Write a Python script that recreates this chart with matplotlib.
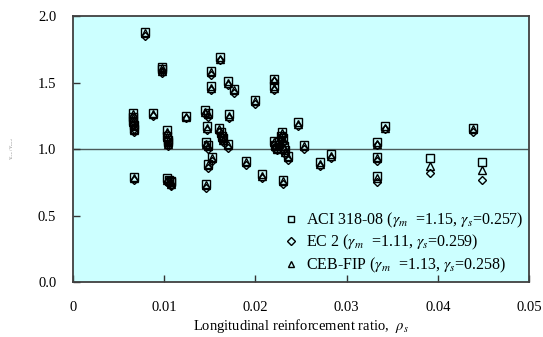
import matplotlib
matplotlib.use('Agg')
import matplotlib.pyplot as plt

# 纵筋配筋率 与 三种规范的 试验值/计算值
rho = [0.0066, 0.0066, 0.0066, 0.0067, 0.0067, 0.0067, 0.0079, 0.0088, 0.0098, 0.0098,
       0.0103, 0.0103, 0.0104, 0.0104, 0.0103, 0.0105, 0.0108, 0.0107, 0.0124, 0.0145,
       0.0148, 0.0147, 0.0146, 0.0148, 0.0146, 0.0148, 0.0152, 0.0151, 0.0151, 0.0161,
       0.0160, 0.0162, 0.0163, 0.0164, 0.0170, 0.0171, 0.0170, 0.0177, 0.0190, 0.0200,
       0.0207, 0.0220, 0.0220, 0.0220, 0.0222, 0.0224, 0.0226, 0.0228, 0.0229, 0.0230,
       0.0231, 0.0233, 0.0230, 0.0236, 0.0247, 0.0253, 0.0271, 0.0283, 0.0333, 0.0333,
       0.0333, 0.0342, 0.0391, 0.0439, 0.0448]
aci = [1.27, 1.24, 1.21, 1.18, 1.15, 0.79, 1.88, 1.27, 1.62, 1.60,
       1.14, 1.10, 1.07, 1.05, 0.78, 0.77, 0.76, 0.75, 1.25, 1.29,
       1.27, 1.17, 1.05, 1.03, 0.74, 0.89, 0.94, 1.59, 1.47, 1.69,
       1.16, 1.13, 1.10, 1.08, 1.51, 1.26, 1.04, 1.45, 0.91, 1.37,
       0.81, 1.53, 1.47, 1.06, 1.03, 1.01, 1.05, 1.10, 1.13, 1.08,
       1.02, 0.99, 0.77, 0.95, 1.20, 1.03, 0.90, 0.96, 1.05, 0.94,
       0.80, 1.17, 0.93, 1.16, 0.90]
ec2 = [1.24, 1.21, 1.18, 1.15, 1.13, 0.77, 1.85, 1.25, 1.59, 1.57,
       1.11, 1.07, 1.04, 1.02, 0.75, 0.74, 0.73, 0.72, 1.23, 1.26,
       1.24, 1.14, 1.02, 1.00, 0.71, 0.86, 0.91, 1.56, 1.44, 1.67,
       1.13, 1.10, 1.07, 1.05, 1.48, 1.23, 1.01, 1.42, 0.88, 1.34,
       0.78, 1.51, 1.44, 1.03, 1.00, 0.99, 1.02, 1.07, 1.10, 1.05,
       0.99, 0.96, 0.74, 0.92, 1.17, 1.00, 0.87, 0.93, 1.03, 0.91,
       0.75, 1.15, 0.82, 1.13, 0.77]
ceb = [1.26, 1.23, 1.20, 1.17, 1.14, 0.78, 1.87, 1.26, 1.61, 1.59,
       1.13, 1.09, 1.06, 1.04, 0.77, 0.76, 0.75, 0.74, 1.24, 1.28,
       1.26, 1.16, 1.04, 1.02, 0.73, 0.88, 0.93, 1.58, 1.46, 1.68,
       1.15, 1.12, 1.09, 1.07, 1.50, 1.25, 1.03, 1.44, 0.90, 1.36,
       0.80, 1.52, 1.46, 1.05, 1.02, 1.00, 1.04, 1.09, 1.12, 1.07,
       1.01, 0.98, 0.76, 0.94, 1.19, 1.02, 0.89, 0.95, 1.04, 0.93,
       0.78, 1.16, 0.87, 1.15, 0.84]

labels = [r'ACI 318-08 ($\gamma_m$  =1.15, $\gamma_s$=0.257)',
          r'EC 2 ($\gamma_m$  =1.11, $\gamma_s$=0.259)',
          r'CEB-FIP ($\gamma_m$  =1.13, $\gamma_s$=0.258)']

plt.rcParams['font.family'] = ['Liberation Serif', 'DejaVu Serif']
plt.rcParams['mathtext.fontset'] = 'stix'
plt.rcParams['font.size'] = 10.5

fig = plt.figure(figsize=(5.43, 3.37), dpi=100)
ax = fig.add_axes([0.1344, 0.1632, 0.8398, 0.7893])
ax.set_facecolor('#CCFFFF')

ax.plot(rho, aci, 's', ms=5.2, mfc='none', mec='black', mew=1.0, label=labels[0])
ax.plot(rho, ec2, 'D', ms=4.0, mfc='none', mec='black', mew=1.0, label=labels[1])
ax.plot(rho, ceb, '^', ms=5.2, mfc='none', mec='black', mew=1.0, label=labels[2])

# 参考线 y = 1
ax.axhline(1.0, color='#4a5a5a', lw=1.0, zorder=1)

ax.set_xlim(0, 0.05)
ax.set_ylim(0, 2.0)
ax.set_xticks([0, 0.01, 0.02, 0.03, 0.04, 0.05])
ax.set_xticklabels(['0', '0.01', '0.02', '0.03', '0.04', '0.05'])
ax.set_yticks([0, 0.5, 1.0, 1.5, 2.0])
ax.set_yticklabels(['0.0', '0.5', '1.0', '1.5', '2.0'])
ax.tick_params(axis='x', direction='in', length=5, width=1, pad=14, color='#333333')
ax.tick_params(axis='y', direction='in', length=5, width=1, pad=12, color='#333333')
for s in ax.spines.values():
    s.set_color('#404040')
    s.set_linewidth(1.3)

ax.set_xlabel(r'Longitudinal reinforcement ratio,  $\rho_s$', labelpad=2)
fig.text(0.022, 0.56, r'$V_{exp}$ / $V_{pred}$', rotation=90, fontsize=3.5,
         color='#777777', ha='center', va='center')

ax.legend(loc='upper left', bbox_to_anchor=(0.44, 0.31), frameon=False, fontsize=11.5,
          markerscale=0.9, handlelength=0.8, handletextpad=0.5, labelspacing=0.2,
          borderpad=0.2)

fig.savefig('out.png', dpi=100)
